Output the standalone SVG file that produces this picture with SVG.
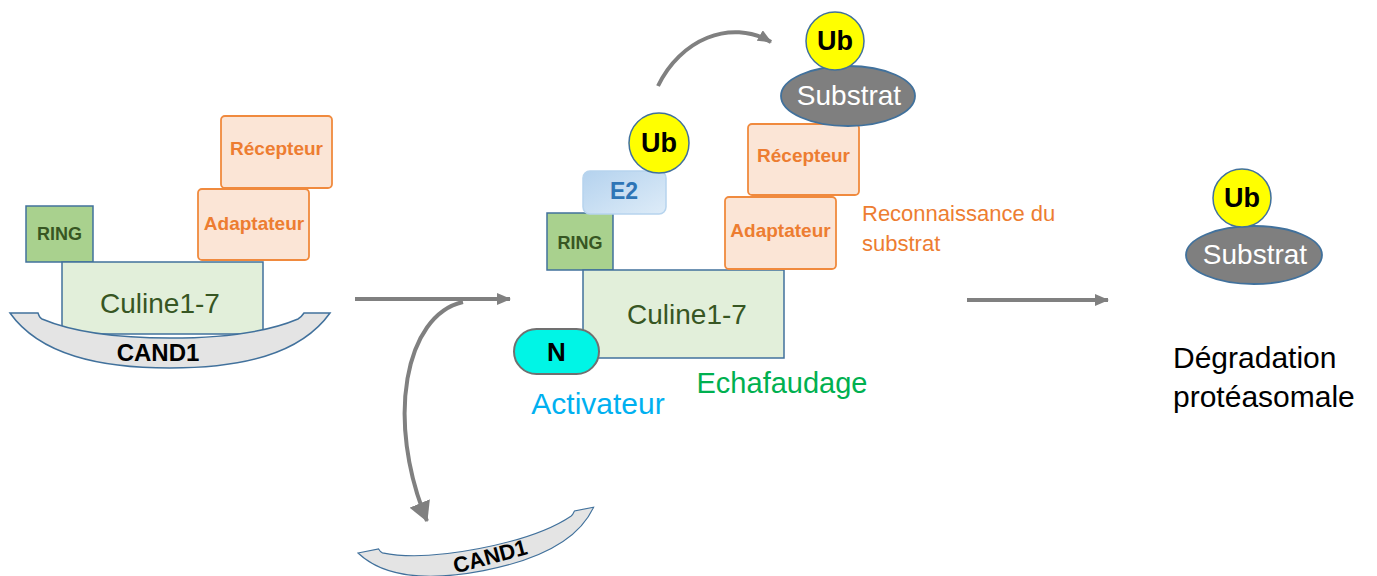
<svg xmlns="http://www.w3.org/2000/svg" width="1377" height="576" viewBox="0 0 1377 576">
<style>
.cul{fill:#e2efda;stroke:#41719c;stroke-width:1.5}
.ring{fill:#a9d18e;stroke:#41719c;stroke-width:1.5}
.org{fill:#fbe5d6;stroke:#f08a3e;stroke-width:1.8}
.cand{fill:#e4e4e4;stroke:#41719c;stroke-width:1.5}
.ub{fill:#ffff00;stroke:#41719c;stroke-width:1.5}
.sub{fill:#7f7f7f;stroke:#41719c;stroke-width:1.8}
.t{font-family:"Liberation Sans",Arial,sans-serif;text-anchor:middle}
.b{font-weight:bold}
.cultx{fill:#375623;font-size:28px}
.ringtx{fill:#375623;font-size:18px;font-weight:bold}
.orgtx{fill:#ed7d31;font-size:19px;font-weight:bold}
.ubtx{fill:#000;font-size:27px;font-weight:bold}
.subtx{fill:#fff;font-size:28px}
.conn{fill:none;stroke:#808080;stroke-width:4}
</style>
<defs>
<marker id="ah" markerUnits="userSpaceOnUse" markerWidth="14" markerHeight="12" refX="13" refY="6" orient="auto">
<path d="M0,0 L14,6 L0,12 Z" fill="#808080"/>
</marker>
<marker id="ahb" markerUnits="userSpaceOnUse" markerWidth="20" markerHeight="22" refX="19" refY="11" orient="auto">
<path d="M0,0 L20,11 L0,22 Z" fill="#808080"/>
</marker>
<path id="arc" d="M10,313 L38,313 C39,316 40,318 42,319 C75,333 120,338 170,338 C220,338 265,333 298,319 C300,318 302,316 304,313 L330,313 C300,355 240,368 170,368 C100,368 40,355 10,313 Z"/>
<linearGradient id="e2g" x1="0" y1="0" x2="1" y2="1">
<stop offset="0" stop-color="#b4d2ee"/>
<stop offset="1" stop-color="#deecf8"/>
</linearGradient>
</defs>

<g id="connectors">
<line class="conn" x1="355" y1="299" x2="510" y2="299" marker-end="url(#ah)"/>
<path class="conn" d="M463,302 C405,315 385,420 427,521" marker-end="url(#ahb)"/>
<path class="conn" d="M658,86 C680,40 730,18 771,42" marker-end="url(#ah)"/>
<line class="conn" x1="967" y1="300" x2="1108" y2="300" marker-end="url(#ah)"/>
</g>

<g id="left-complex">
<g id="left-receptor">
<rect class="org" x="221" y="116" width="111" height="72" rx="4"/>
<text class="t orgtx" x="276.5" y="155">Récepteur</text>
</g>
<g id="left-adaptor">
<rect class="org" x="198" y="189" width="111" height="71" rx="4"/>
<text class="t orgtx" x="254" y="230">Adaptateur</text>
</g>
<g id="left-ring">
<rect class="ring" x="26" y="206" width="67" height="56"/>
<text class="t ringtx" x="59.5" y="240">RING</text>
</g>
<g id="left-culine">
<rect class="cul" x="62" y="262" width="201" height="72"/>
<text class="t cultx" x="160" y="313">Culine1-7</text>
</g>
<g id="left-cand1">
<use href="#arc" class="cand"/>
<text class="t b" x="158" y="361" font-size="24" fill="#000">CAND1</text>
</g>
</g>

<g id="bottom-cand1">
<use href="#arc" class="cand" transform="translate(358,553) rotate(-11) scale(0.75) translate(-10,-313)"/>
<text class="t b" x="0" y="8" font-size="22" fill="#000" transform="translate(490,556) rotate(-15)">CAND1</text>
</g>

<g id="middle-complex">
<g id="mid-ring">
<rect class="ring" x="547" y="213" width="66" height="57"/>
<text class="t ringtx" x="580" y="249">RING</text>
</g>
<g id="mid-e2">
<rect x="583" y="171" width="83" height="43" rx="7" fill="url(#e2g)" stroke="#b7d4ee" stroke-width="1.5"/>
<text class="t b" x="624" y="199" font-size="23" fill="#2e75b6">E2</text>
</g>
<g id="mid-ub">
<circle class="ub" cx="659" cy="143" r="30"/>
<text class="t ubtx" x="659" y="152">Ub</text>
</g>
<g id="mid-culine">
<rect class="cul" x="583" y="270" width="201" height="88"/>
<text class="t cultx" x="687" y="324">Culine1-7</text>
</g>
<g id="mid-adaptor">
<rect class="org" x="725" y="197" width="111" height="72" rx="4"/>
<text class="t orgtx" x="780.5" y="237">Adaptateur</text>
</g>
<g id="mid-receptor">
<rect class="org" x="748" y="124" width="111" height="71" rx="4"/>
<text class="t orgtx" x="803.5" y="162">Récepteur</text>
</g>
<g id="mid-substrat">
<ellipse class="sub" cx="848" cy="96" rx="67" ry="30"/>
<text class="t subtx" x="849" y="105">Substrat</text>
</g>
<g id="top-ub">
<circle class="ub" cx="835" cy="41" r="29"/>
<text class="t ubtx" x="835" y="50">Ub</text>
</g>
<g id="mid-n">
<rect x="514" y="329" width="85" height="45" rx="22.5" fill="#00f5e6" stroke="#707070" stroke-width="2"/>
<text class="t b" x="556.5" y="361" font-size="26" fill="#000">N</text>
</g>
<text id="lbl-reconnaissance" font-family="Liberation Sans,Arial,sans-serif" font-size="22" fill="#ed7d31"><tspan x="862" y="221">Reconnaissance du</tspan><tspan x="862" y="251">substrat</tspan></text>
<text id="lbl-activateur" class="t" x="598" y="414" font-size="30" fill="#00b0f0">Activateur</text>
<text id="lbl-echafaudage" class="t" x="782" y="393" font-size="29" fill="#00b050">Echafaudage</text>
</g>

<g id="right-product">
<g id="right-substrat">
<ellipse class="sub" cx="1254" cy="255" rx="68" ry="29"/>
<text class="t subtx" x="1255" y="264">Substrat</text>
</g>
<g id="right-ub">
<circle class="ub" cx="1242" cy="198" r="29"/>
<text class="t ubtx" x="1242" y="207">Ub</text>
</g>
<text id="lbl-degradation" font-family="Liberation Sans,Arial,sans-serif" font-size="30" fill="#000"><tspan x="1173" y="368">Dégradation</tspan><tspan x="1173" y="407">protéasomale</tspan></text>
</g>
</svg>
